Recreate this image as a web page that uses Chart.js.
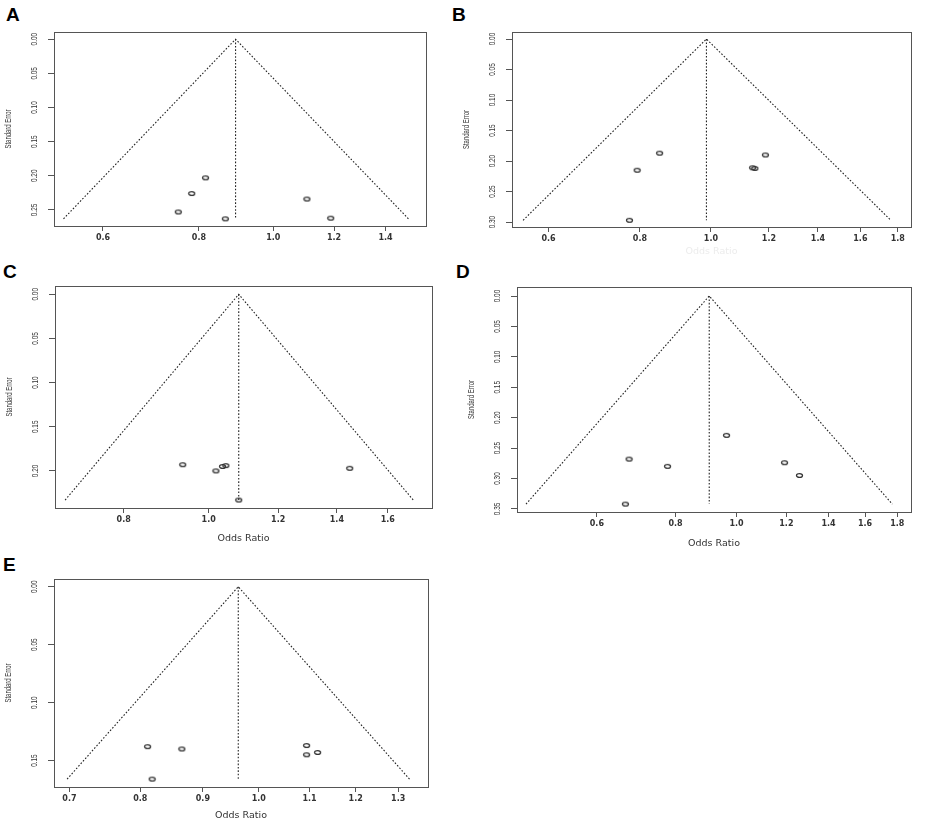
<!DOCTYPE html>
<html><head><meta charset="utf-8">
<script src="https://cdn.jsdelivr.net/npm/chart.js@4.4.1/dist/chart.umd.min.js"></script>
<style>
html,body{margin:0;padding:0;background:#fff;}
body{width:941px;height:829px;position:relative;overflow:hidden;}
canvas{position:absolute;}
.lab{position:absolute;font:bold 19px 'Liberation Sans',Arial,sans-serif;line-height:19px;color:#000;}
</style></head><body>
<div class="lab" style="left:6px;top:5px">A</div>
<div class="lab" style="left:452px;top:5px">B</div>
<div class="lab" style="left:3px;top:262px">C</div>
<div class="lab" style="left:456px;top:262px">D</div>
<div class="lab" style="left:3px;top:555px">E</div>
<script>
// ---- Data ----
// Panel A
const orA = [0.816, 0.783, 0.752, 0.866, 1.106, 1.188];
const seA = [0.203, 0.226, 0.253, 0.263, 0.234, 0.262];
const funnelOrA = [0.533, 0.893, 1.500];
const funnelSeA = [0.263, 0, 0.263];
const xTicksA = [0.6, 0.8, 1.0, 1.2, 1.4];
const yTicksA = [0, 0.05, 0.10, 0.15, 0.20, 0.25];
// Panel B
const orB = [0.851, 0.793, 0.774, 1.140, 1.148, 1.187];
const seB = [0.187, 0.215, 0.297, 0.211, 0.212, 0.190];
const funnelOrB = [0.554, 0.986, 1.761];
const funnelSeB = [0.297, 0, 0.297];
const xTicksB = [0.6, 0.8, 1.0, 1.2, 1.4, 1.6, 1.8];
const yTicksB = [0, 0.05, 0.10, 0.15, 0.20, 0.25, 0.30];
// Panel C
const orC = [0.934, 1.019, 1.037, 1.046, 1.448, 1.082];
const seC = [0.193, 0.200, 0.195, 0.194, 0.197, 0.233];
const funnelOrC = [0.686, 1.082, 1.711];
const funnelSeC = [0.233, 0, 0.233];
const xTicksC = [0.8, 1.0, 1.2, 1.4, 1.6];
const yTicksC = [0, 0.05, 0.10, 0.15, 0.20];
// Panel D
const orD = [0.964, 0.675, 0.777, 0.666, 1.192, 1.259];
const seD = [0.229, 0.268, 0.280, 0.342, 0.274, 0.295];
const funnelOrD = [0.463, 0.905, 1.768];
const funnelSeD = [0.342, 0, 0.342];
const xTicksD = [0.6, 0.8, 1.0, 1.2, 1.4, 1.6, 1.8];
const yTicksD = [0, 0.05, 0.10, 0.15, 0.20, 0.25, 0.30, 0.35];
// Panel E
const orE = [0.811, 0.865, 0.818, 1.094, 1.094, 1.117];
const seE = [0.138, 0.140, 0.166, 0.137, 0.145, 0.143];
const funnelOrE = [0.697, 0.962, 1.328];
const funnelSeE = [0.166, 0, 0.166];
const xTicksE = [0.7, 0.8, 0.9, 1.0, 1.1, 1.2, 1.3];
const yTicksE = [0, 0.05, 0.10, 0.15];

const xTitle = 'Odds Ratio';
const yTitle = 'Standard Error';

// ---- Layout ----
const panels = [
  {or: orA, se: seA, fOr: funnelOrA, fSe: funnelSeA, xt: xTicksA, yt: yTicksA,
   xr: [0.518, 1.581], yr: [-0.0105, 0.2735], box: [54, 32, 426, 226], title: false},
  {or: orB, se: seB, fOr: funnelOrB, fSe: funnelSeB, xt: xTicksB, yt: yTicksB,
   xr: [0.535, 1.876], yr: [-0.0115, 0.308], box: [512, 32, 911, 227], title: true, titleColor: '#ececec', titleOff: 24},
  {or: orC, se: seC, fOr: funnelOrC, fSe: funnelSeC, xt: xTicksC, yt: yTicksC,
   xr: [0.668, 1.797], yr: [-0.0094, 0.242], box: [55, 286, 432, 508], title: true, titleColor: '#333', titleOff: 30},
  {or: orD, se: seD, fOr: funnelOrD, fSe: funnelSeD, xt: xTicksD, yt: yTicksD,
   xr: [0.448, 1.893], yr: [-0.0148, 0.355], box: [517, 287, 911, 512], title: true, titleColor: '#333', titleOff: 31},
  {or: orE, se: seE, fOr: funnelOrE, fSe: funnelSeE, xt: xTicksE, yt: yTicksE,
   xr: [0.684, 1.375], yr: [-0.0067, 0.1728], box: [54, 579, 428, 787], title: true, titleColor: '#333', titleOff: 28}
];

const PAD_L = 54, PAD_T = 20, PAD_R = 8, PAD_B = 45;

function makeDot() {
  const c = document.createElement('canvas');
  c.width = 9; c.height = 7;
  const g = c.getContext('2d');
  g.strokeStyle = '#333'; g.lineWidth = 1.3;
  g.beginPath(); g.ellipse(4.5, 3.5, 3, 1.9, 0, 0, 2 * Math.PI); g.stroke();
  return c;
}
const dot = makeDot();

const boxPlugin = {
  id: 'rbox',
  afterDraw(chart) {
    const {ctx, chartArea: a} = chart;
    const y = chart.scales.y;
    ctx.save();
    ctx.strokeStyle = '#555'; ctx.lineWidth = 1;
    ctx.strokeRect(Math.round(a.left) + 0.5, Math.round(a.top) + 0.5,
                   Math.round(a.right - a.left), Math.round(a.bottom - a.top));
    // rotated, condensed y tick labels
    ctx.fillStyle = '#333';
    ctx.font = '8.5px "Liberation Sans", Arial, sans-serif';
    const k = 12.5 / ctx.measureText('0.00').width;
    y.ticks.forEach(t => {
      const py = y.getPixelForValue(t.value);
      ctx.save();
      ctx.translate(a.left - 19.5, py);
      ctx.rotate(-Math.PI / 2);
      ctx.scale(k, 1);
      ctx.textAlign = 'center'; ctx.textBaseline = 'middle';
      ctx.fillText(Number(t.value).toFixed(2), 0, 0);
      ctx.restore();
    });
    // y title
    ctx.font = '8.5px "Liberation Sans", Arial, sans-serif';
    const k2 = 39 / ctx.measureText(yTitle).width;
    ctx.save();
    ctx.translate(a.left - 45, (a.top + a.bottom) / 2);
    ctx.rotate(-Math.PI / 2);
    ctx.scale(k2, 1);
    ctx.textAlign = 'center'; ctx.textBaseline = 'middle';
    ctx.fillText(yTitle, 0, 0);
    ctx.restore();
    ctx.restore();
  }
};

panels.forEach(p => {
  const [L, T, R, B] = p.box;
  const cv = document.createElement('canvas');
  const w = R - L + PAD_L + PAD_R, h = B - T + PAD_T + PAD_B;
  cv.width = w; cv.height = h;
  cv.style.left = (L - PAD_L) + 'px'; cv.style.top = (T - PAD_T) + 'px';
  cv.style.width = w + 'px'; cv.style.height = h + 'px';
  document.body.appendChild(cv);

  const lineStyle = {showLine: true, borderColor: '#222', borderWidth: 1.1, borderDash: [1.6, 1.8],
                     pointRadius: 0, fill: false};
  const titleLH = 12;
  new Chart(cv, {
    type: 'scatter',
    data: {
      datasets: [
        Object.assign({data: p.fOr.map((x, i) => ({x, y: p.fSe[i]}))}, lineStyle),
        Object.assign({data: [{x: p.fOr[1], y: p.fSe[1]}, {x: p.fOr[1], y: p.fSe[0]}]}, lineStyle),
        {data: p.or.map((x, i) => ({x, y: p.se[i]})), pointStyle: dot, pointRadius: 3, showLine: false}
      ]
    },
    options: {
      responsive: false, animation: false, events: [],
      devicePixelRatio: 1,
      layout: {padding: {left: 0, top: PAD_T, right: PAD_R, bottom: 0}},
      plugins: {legend: {display: false}, tooltip: {enabled: false}},
      scales: {
        x: {
          type: 'logarithmic', min: p.xr[0], max: p.xr[1],
          afterBuildTicks: s => { s.ticks = p.xt.map(v => ({value: v})); },
          afterFit: s => { s.height = PAD_B; },
          grid: {display: true, drawOnChartArea: false, drawTicks: true, tickLength: 5, color: '#555'},
          border: {display: true, color: '#555'},
          ticks: {autoSkip: false, maxRotation: 0, padding: 2, color: '#333',
                  font: {family: '"DejaVu Sans", Verdana, sans-serif', size: 8, weight: 'bold'},
                  callback: v => Number(v).toFixed(1)},
          title: {display: p.title, text: xTitle, color: p.titleColor || '#333',
                  font: {family: '"DejaVu Sans", Verdana, sans-serif', size: 9.5},
                  padding: {top: 0, bottom: PAD_B - (p.titleOff || 30) - titleLH / 2}}
        },
        y: {
          type: 'linear', reverse: true, min: p.yr[0], max: p.yr[1],
          afterBuildTicks: s => { s.ticks = p.yt.map(v => ({value: v})); },
          afterFit: s => { s.width = PAD_L; },
          grid: {display: true, drawOnChartArea: false, drawTicks: true, tickLength: 6, color: '#555'},
          border: {display: true, color: '#555'},
          ticks: {color: 'rgba(0,0,0,0)', font: {size: 8}}
        }
      }
    },
    plugins: [boxPlugin]
  });
});
</script>
</body></html>
